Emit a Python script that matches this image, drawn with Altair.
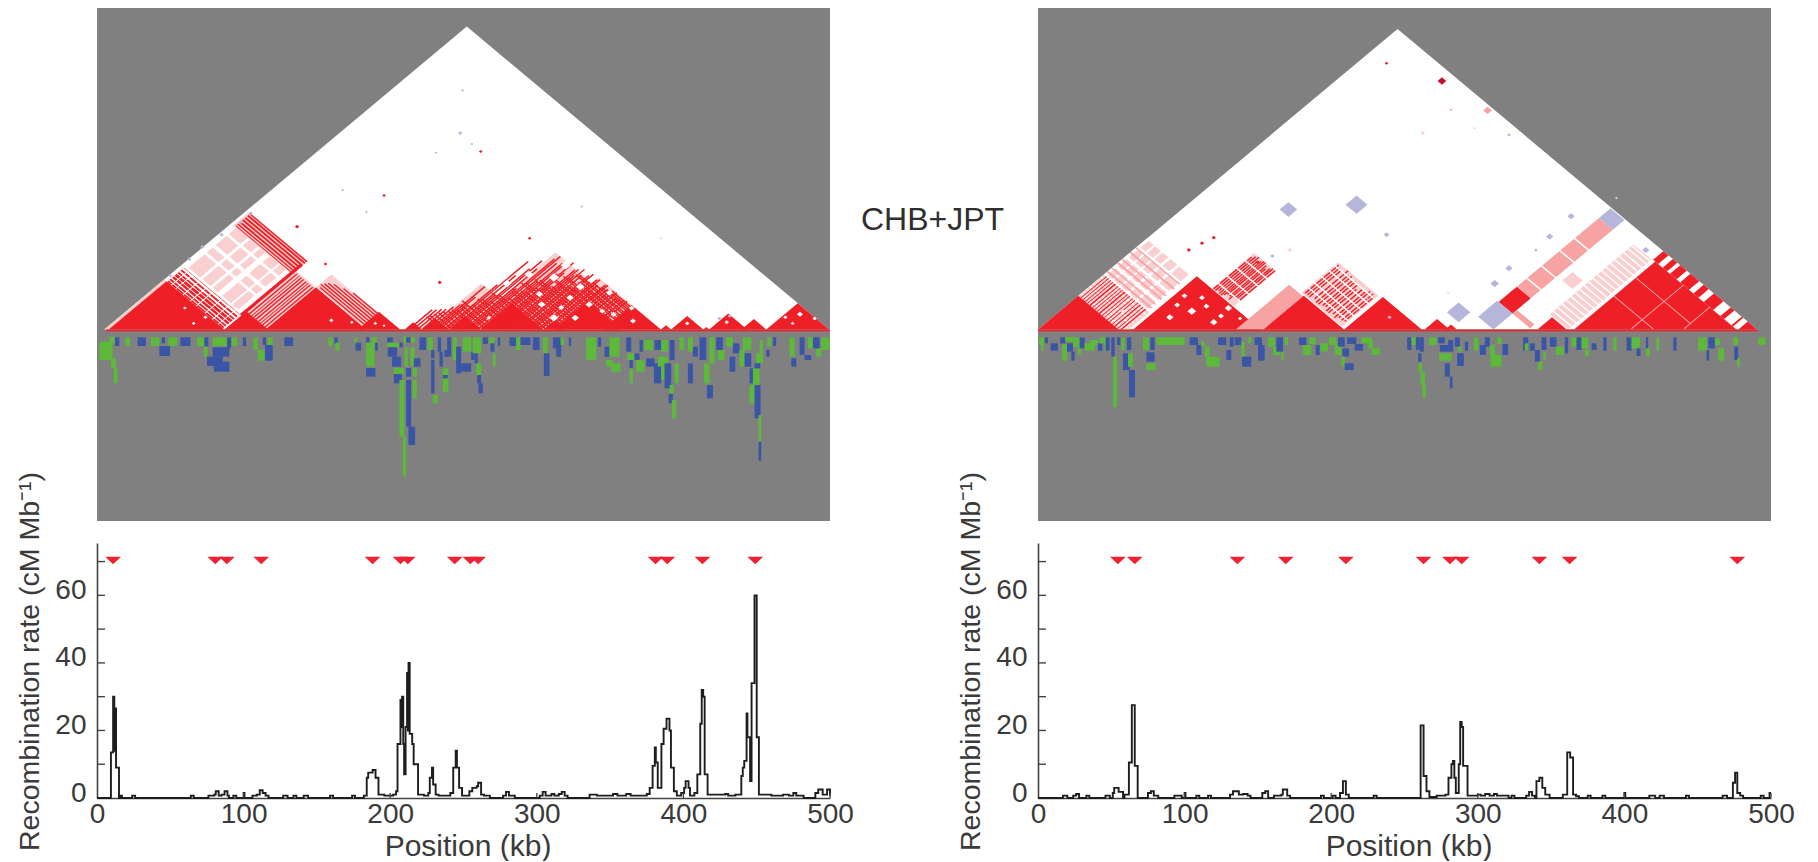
import altair as alt
import pandas as pd

# ---------- recombination-rate series (kb, cM/Mb) ----------
RATE_L = [(0,0),(9.5,13.5),(11,30),(11.8,14),(12.2,26.5),(13,9),(15,0),(16,.7),(17,0),(24,.7),(26,0),(64,.7),(66,0),(76,.7),(80,1),(81,2),(83,.7),(85,1),(87,2),(89,.7),(90,0),(93,.7),(95,0),(100,1.5),(100.6,0),(106,.7),(109,1),(111,2.3),(113,1.5),(115,.7),(117,0),(127,.7),(130,0),(134,.7),(136,0),(141,.7),(144,0),(159,.7),(161,0),(174,.7),(176,0),(182,.7),(184,6),(185,7.5),(188,8.3),(190,6),(192,1),(196,.7),(200,.7),(202,1),(204,2),(205,16),(207,29),(207.7,21),(208.1,30),(208.9,16),(209.5,7),(210.5,21),(211.5,37),(212.1,20),(212.5,40),(213.3,19),(215,16),(216,10),(219,1),(223,.7),(226,1.5),(227,6),(228.5,9),(229.3,4),(231,1),(233,.7),(241,1.5),(243,9),(244.7,14),(245.5,9),(247,3),(249,.7),(252,.7),(254,2),(256,3),(259,3.5),(260,4.5),(262,1),(264,.7),(268,0),(277,.7),(279,1.8),(281,.7),(283,.7),(285,0),(302,.7),(304,1.8),(306,.7),(310,1.2),(312,.7),(315,1.2),(317,1.8),(319,.7),(321,0),(336,1),(341,.7),(352,1.2),(355,.7),(361,1.2),(364,.7),(375,1.2),(377,3),(379,9.5),(380.5,15),(381.2,10.5),(382.5,3),(384,3),(385,16),(386.5,20.5),(388.5,23.5),(390.5,20),(391.5,9),(393.5,2),(395.5,.7),(398.5,1.5),(400.5,3),(401.5,5),(403.5,3),(404.5,.7),(407.5,1.5),(409.5,7),(411.5,22),(412.5,32),(413.5,30),(414.5,7),(416.5,1),(428.5,1.2),(430.5,.7),(435.5,1),(439.5,6.5),(440.5,9),(441.5,11),(443.1,25),(443.7,18),(445.5,5),(446.5,34),(448.5,60),(450,18),(451.5,1),(460,.7),(468,1),(472,.7),(475,1.5),(477,.7),(480,.7),(482,0),(490,1.5),(492,2.5),(495,1),(498,2.5),(500,.7)]
RATE_R = [(0,0),(17,.7),(20,0),(24,.7),(26,1.2),(28,0),(33,.7),(35,0),(46,.7),(49,0),(51,1.5),(52,3),(55,1.8),(58,0),(59,1),(62,10.5),(64,27.5),(66,9.5),(68,0),(75,1.5),(77,2),(79,.7),(82,0),(93,.7),(98,0),(100,1.5),(100.6,0),(108,.7),(110,0),(116,.7),(118,0),(131,1),(133,2),(137,1),(140,1.2),(143,.7),(145,0),(153,1.5),(155,2),(157,0),(161,.7),(166,1),(167,2.5),(170,.7),(172,0),(193,.7),(195,0),(201,.7),(203,0),(206,1.5),(208,5),(210,1),(212,0),(229,.7),(231,0),(261,21.5),(263,6.5),(265,2),(267,.3),(272,.7),(278,1),(280,6),(282,10),(283,11),(284,6),(285,1.5),(287,10),(288,22.5),(289,21),(290,9.5),(293,.7),(300,1),(302,.7),(305,1.2),(308,.7),(311,1.2),(313,.7),(321,0),(323,.7),(325,0),(333,.7),(335,1.8),(337,.7),(339,0),(340,5),(342,6),(344,3),(346,1),(349,0),(358,1),(361,13.5),(363,12),(365,1),(367,.5),(369,0),(375,.7),(377,0),(385,.7),(387,0),(400,1.5),(400.6,0),(417,.7),(421,0),(424,.7),(427,0),(442,.7),(444,0),(467,.7),(470,0),(474,4.5),(475.5,7.5),(477,1.5),(479,.7),(481,0),(493,.7),(495,0),(499,1.5),(500,1.5)]
HOTSPOT_L = [11,80.7,88.6,112,188,207,212,244,254.7,260,381,389,413,449]
HOTSPOT_R = [54.5,66,136,169,210,263,281,289,342,362.6,477]
Y_TICKS = [10,20,30,40,50,60,70]
X_TICKS = [100,200,300,400,500]

# ---------- per-SNP track below the triangle: (ruler start, ruler end, depth from, depth to, class) ----------
TRACK_L1 = [(25,65,65,120,'G'),(55,70,50,70,'G'),(60,75,115,145,'G'),(68,80,145,190,'G'),(72,85,52,78,'B'),(103,117,52,78,'G'),(140,165,52,78,'B'),(180,205,52,78,'G'),(212,222,52,70,'B'),(205,237,78,108,'B'),(232,258,52,78,'G'),(268,298,52,78,'B'),(318,340,52,78,'G'),(340,352,52,80,'B'),(338,350,80,110,'G'),(365,415,52,78,'G'),(408,420,52,85,'B'),(365,415,82,110,'B'),(348,395,110,138,'B'),(368,415,125,155,'B'),(422,438,52,78,'G'),(455,465,52,78,'B'),(487,500,52,90,'G'),(500,520,90,122,'G'),(515,525,52,75,'B'),(522,545,75,122,'B'),(530,545,52,75,'G'),(580,606,52,78,'B'),(712,724,52,78,'G'),(730,740,52,72,'B'),(733,745,68,92,'G'),(790,798,52,72,'G'),(793,810,68,92,'B'),(825,835,52,68,'B'),(840,857,52,68,'G'),(825,850,68,140,'G'),(852,860,68,92,'B'),(825,853,144,170,'B'),(888,905,52,68,'B'),(888,925,68,82,'G'),(925,935,68,82,'B'),(890,918,82,110,'B'),(903,930,110,140,'B'),(908,938,144,162,'G'),(908,932,162,190,'B'),(938,948,50,70,'G'),(945,958,52,68,'B'),(940,950,82,140,'G'),(925,940,180,350,'G'),(935,945,350,470,'G'),(945,960,144,170,'B'),(945,960,180,320,'B'),(952,972,320,375,'B'),(960,972,52,68,'G'),(958,970,82,138,'G'),(968,988,115,140,'B'),(965,977,144,170,'G'),(965,977,180,235,'G'),(985,1005,52,90,'B'),(1010,1025,52,90,'G'),(1020,1030,90,115,'B'),(1020,1030,120,220,'B'),(1025,1040,225,250,'G'),(1040,1050,52,95,'B'),(1045,1055,95,140,'B'),(1055,1072,145,215,'G'),(1055,1070,165,175,'B'),(1060,1080,90,110,'B'),(1068,1080,52,90,'B'),(1085,1097,52,120,'G'),(1095,1110,80,160,'B')]
TRACK_L2 = [(5,30,52,95,'G'),(30,40,95,120,'B'),(35,60,52,100,'G'),(0,30,130,155,'B'),(40,50,100,130,'B'),(45,60,130,165,'G'),(48,60,165,190,'B'),(52,65,190,220,'B'),(65,80,52,72,'B'),(85,100,52,72,'G'),(88,100,70,95,'B'),(95,103,100,140,'G'),(110,117,52,78,'B'),(145,165,52,78,'B'),(165,178,52,90,'G'),(178,208,52,75,'B'),(215,235,52,90,'B'),(245,260,52,100,'G'),(248,265,100,168,'B'),(275,300,52,85,'B'),(285,300,80,110,'B'),(298,308,52,75,'G'),(323,330,52,78,'B'),(375,405,52,120,'G'),(410,420,52,80,'B'),(430,445,80,110,'B'),(435,455,120,140,'G'),(445,475,52,110,'G'),(450,478,130,155,'G'),(495,510,52,95,'B'),(498,520,100,120,'G'),(505,515,120,145,'B'),(505,515,145,190,'G'),(520,535,100,120,'B'),(525,550,120,155,'G'),(535,545,60,95,'B'),(550,575,60,90,'G'),(555,580,115,140,'B'),(580,600,60,90,'B'),(578,600,130,190,'B'),(600,620,60,95,'G'),(590,620,110,140,'G'),(600,620,140,180,'G'),(610,630,130,205,'B'),(625,640,60,120,'B'),(625,638,195,220,'G'),(622,635,222,250,'B'),(632,645,240,295,'G'),(640,652,130,190,'G'),(655,668,52,90,'G'),(680,695,52,95,'G'),(680,695,130,190,'B'),(695,710,80,110,'B'),(715,735,52,120,'B'),(728,745,130,190,'G'),(737,755,195,235,'B'),(745,760,52,130,'G'),(765,785,52,90,'B'),(770,790,90,120,'G'),(795,815,52,80,'G'),(805,822,110,155,'B'),(815,835,70,100,'B'),(835,850,90,140,'G'),(845,870,52,90,'G'),(850,870,100,140,'B'),(865,880,145,190,'B'),(865,880,195,250,'G'),(875,895,145,195,'G'),(880,898,195,295,'B'),(892,900,285,365,'G'),(892,900,365,422,'B'),(885,905,100,130,'G'),(880,897,130,145,'B'),(895,905,60,100,'G'),(915,925,90,110,'B'),(918,930,52,80,'G'),(935,945,52,78,'B'),(985,1000,52,110,'G'),(990,1005,115,140,'B'),(1015,1030,52,105,'B'),(1030,1050,105,120,'B'),(1040,1060,52,85,'G'),(1065,1080,85,110,'G'),(1055,1075,52,85,'B'),(1080,1105,52,90,'G')]
TRACK_R1 = [(28,45,52,75,'G'),(35,42,75,92,'G'),(45,55,52,70,'B'),(63,85,70,92,'B'),(92,107,52,70,'B'),(98,112,72,122,'G'),(107,130,52,65,'G'),(112,130,70,95,'B'),(125,135,95,122,'B'),(130,145,52,80,'G'),(145,155,52,105,'G'),(150,165,52,85,'B'),(165,195,70,92,'G'),(180,205,60,75,'G'),(205,218,70,92,'B'),(210,230,52,70,'G'),(225,238,70,92,'G'),(228,240,52,92,'B'),(245,255,52,110,'B'),(250,262,110,262,'G'),(262,272,52,75,'B'),(280,300,100,150,'B'),(275,285,52,90,'G'),(292,305,52,90,'B'),(295,310,100,140,'G'),(298,316,150,232,'B'),(340,358,52,90,'G'),(362,375,52,90,'B'),(350,375,97,125,'B'),(350,378,130,150,'G'),(380,465,52,75,'G'),(480,505,52,75,'B'),(500,515,75,105,'B'),(515,525,65,80,'G'),(525,540,80,110,'G'),(530,570,110,140,'G'),(565,590,52,75,'B'),(590,605,90,120,'B'),(600,612,52,80,'B'),(615,635,52,75,'B'),(635,645,65,110,'G'),(637,665,110,140,'B'),(655,665,52,70,'G'),(675,697,52,75,'B'),(685,705,75,122,'B'),(715,735,52,80,'G'),(730,750,80,105,'G'),(740,760,52,95,'B'),(755,762,95,120,'G'),(765,775,52,75,'G'),(808,830,52,75,'B'),(820,845,75,105,'G'),(838,858,52,72,'G'),(858,870,75,105,'B'),(872,895,70,95,'G'),(898,920,52,75,'G'),(915,935,75,105,'G'),(925,945,52,80,'B'),(938,958,85,110,'B'),(935,945,110,140,'G'),(945,972,130,150,'B'),(952,980,52,72,'B'),(975,1000,72,92,'B'),(995,1025,52,70,'G'),(1015,1030,60,85,'G'),(1025,1050,85,105,'G')]
TRACK_R2 = [(22,35,52,90,'B'),(35,50,52,75,'G'),(48,60,52,90,'B'),(60,72,52,95,'B'),(55,65,100,125,'B'),(55,67,130,155,'G'),(62,75,155,195,'G'),(68,78,195,232,'G'),(88,110,52,75,'G'),(115,135,52,70,'B'),(120,145,75,95,'B'),(118,155,100,122,'G'),(135,150,130,170,'B'),(150,158,170,205,'B'),(145,160,60,95,'B'),(165,180,52,80,'B'),(172,192,100,138,'B'),(175,185,80,95,'G'),(195,205,65,92,'B'),(222,235,52,92,'G'),(240,258,75,105,'B'),(255,270,52,80,'B'),(270,285,75,105,'G'),(272,305,105,140,'G'),(292,305,52,72,'G'),(308,325,72,105,'B'),(370,385,52,92,'B'),(375,385,70,92,'G'),(390,405,70,92,'B'),(405,420,90,125,'B'),(415,428,125,150,'G'),(430,438,95,120,'G'),(425,440,52,90,'B'),(450,470,52,80,'B'),(468,492,80,105,'G'),(495,505,52,100,'B'),(515,530,52,80,'G'),(530,545,52,90,'B'),(545,565,52,85,'G'),(555,568,90,108,'G'),(575,590,70,90,'B'),(610,620,52,92,'B'),(640,650,52,92,'G'),(680,695,52,92,'B'),(695,720,52,85,'G'),(710,722,85,108,'B'),(738,745,52,92,'B'),(738,750,85,108,'G'),(770,778,52,92,'G'),(820,830,52,92,'B'),(895,920,52,92,'G'),(925,945,52,85,'B'),(945,960,55,75,'G'),(920,928,90,122,'B'),(955,972,85,122,'G'),(1000,1015,52,75,'G'),(1003,1015,80,120,'B'),(1012,1020,115,140,'G'),(1075,1097,52,75,'G')]

# ---------- LD regions (SNP-a range, SNP-b range, class) in kb ----------
L_BLOCKS = [(5,500,5,500,'w'),(5,9,5,87,'p'),(8,87,8,87,'r'),(9,85,87,110,'r')]
L_BAND_B = [(89,90),(92,93.5),(96,97),(100,101),(103,105),(107,109.5)]
L_BAND_A = [(14,15),(20,21),(30,31),(40,41),(48,49),(60,61),(70,71),(78,79)]
L_PINK_A = [(12,28),(31,42),(45,52),(58,70),(72,80)]
L_PINK_B = [(113,135),(138,146),(150,165),(168,178)]
L_RED_B = [(179,180),(181.5,183),(184.5,186.5),(188,190),(191.5,193.5),(195,197),(198,199.5)]
L_RED_A = [(85,88.5),(90.5,92),(94,95),(96.5,98),(99.5,101),(103,104.5),(106,107),(108.5,110),(112,113.5)]
L_EXTRA = [(8,88,178,200,'p'),(88,115,117,184,'p'),(87,117,87,117,'r'),(115,184,115,184,'r'),(115,190,184,205,'p'),(178,207,178,207,'r'),
           (250,376,250,376,'p'),(225,300,225,300,'p'),(300,385,300,385,'p'),(262,305,262,305,'r'),(240,262,240,262,'r'),(222,240,222,240,'r'),(210,222,210,222,'r'),(305,320,305,320,'r'),(312,358,312,358,'r'),(345,385,345,385,'r'),(392,414,392,414,'r'),(418,444,418,444,'r'),(457,500,457,500,'r'),(385,392,385,392,'r'),(440,457,440,457,'r'),(414,418,414,418,'r')]
L_LINES_B = [(186,118),(189,116),(192,118),(195,120),(198,125),(201,135),(204,145)]
L_ROWS = [(212,245),(215,248),(218,252),(221,255),(224,262),(227,268),(229,300),(231,285),(233,272),(236,310),(238,350),(241,330),(243,300),(245,345),(247,360),(250,350),(252,320),(254,370),(256,376),(259,368),(261,340),(263,372),(265,374),(268,360),(270,380),(272,365),(274,345),(277,375),(279,378),(281,370),(283,382),(286,375),(288,360),(291,380),(293,384),(295,370),(297,375),(300,382),(302,384),(305,378),(307,368),(310,384),(312,385),(315,380),(318,378),(321,384),(324,385),(328,380),(331,382),(335,384),(338,385)]
L_COLS = [(235,215),(238,216),(242,218),(246,220),(250,222),(254,224),(258,226),(261,230),(265,232),(268,228),(272,226),(276,236),(280,240),(284,235),(287,238),(291,246),(295,250),(299,240),(302,245),(306,255),(310,260),(313,252),(316,250),(320,258),(323,262),(327,252),(330,255),(333,266),(336,270),(339,258),(342,262),(345,275),(348,280),(351,265),(353,270),(356,285),(358,290),(361,275),(363,280),(366,290),(368,295),(371,282),(373,285),(376,300),(378,310),(380,315),(382,320)]
L_SPOTS = [(249.6,391,2,'l'),(248,321,3,'l'),(256,303,2,'l'),(231.6,289,2,'l'),(262,291,2.5,'r'),(167.7,228,2,'l'),(196,219,2.5,'r'),(184,192,2,'l'),(136.6,168,3,'r'),(331,201,2,'l'),(385,149,2,'p'),(234,77,3,'r'),(295.4,149,2.5,'r'),(156,107,2.5,'r'),(303.6,41,5,'w'),(312,19,6,'w'),(302,58,5,'w'),(323,52,5,'w'),(317,36,4,'w'),(336,41,5,'w'),(326.5,19,5,'w'),(352.7,25,4,'w'),(366,14,4,'w'),(267.6,19,3,'w'),(345,30,4,'w'),(330,70,6,'w'),(312,85,7,'w'),(295,90,6,'w'),(350,60,5,'w'),(365,35,4,'w'),(280,75,6,'w'),(320,105,7,'w'),(480,25,4,'w'),(470,20,3,'w'),(490,18,3,'w'),(475,10,2.5,'w'),(403,10,3,'w'),(430,12,3,'w'),(160,15,3,'w'),(174,12,2.5,'w'),(190,10,2.5,'w'),(196,6,2,'w'),(74,20,3,'w'),(60,35,2.5,'w'),(66,10,2.5,'w'),(425,18,3,'l'),(432,22,3,'l'),(50,88,3,'l'),(63,115,3,'l'),(72,135,3,'l'),(85,155,3,'l'),(98,175,3,'l'),(105,190,3,'l')]

R_BLOCKS = [(0,491,0,491,'w'),(0,62,55,90,'p'),(0,60,90,150,'w'),(0,55,0,55,'r'),(65,152,65,152,'r')]
R_PINK_A = [(3,10),(12,20),(22,30),(33,42),(45,58)]
R_PINK_B = [(92,103),(106,118),(121,134),(137,148)]
R_WHITE_B = [(58,59.5),(62,63),(66,67),(70,71.5),(75,76),(80,81),(85,86.5)]
R_RED_A = [(3,4),(6,7),(9,10),(12,13),(15,16.5),(19,20),(22,23),(25,26),(28,29.5),(32,33),(35,36),(39,40),(42,43),(46,47),(49,50.5),(53,54),(56,57.5)]
R_RED_B2 = [(94,96),(100,101.5),(108,110),(114,115.5),(125,127),(133,134.5)]
R_EXTRA = [(85,115,153,210,'p'),(135,208,135,208,'m'),(154,209,154,209,'r'),(150,205,210,260,'p'),(209,262,209,262,'r'),(264,281,264,281,'r'),(278,286,278,286,'r'),(292,311,337,362,'r'),(292,311,362,474,'m'),(292,311,474,490,'l'),(290,311,311,337,'l'),(311,335,337,343,'m'),(318,332,398,412,'p'),(337,362,362,476,'p'),(341,361,341,361,'r'),(366,477,366,477,'r'),(363,477,477,491,'r'),(478,491,478,491,'r')]
R_RED_ROWS = [(86,153,205),(88.5,153,208),(91,155,210),(93.5,153,205),(96,153,208),(98,155,210),(100,158,210),(103,158,208),(105,155,205),(108,160,208),(110,160,210),(113,162,210),(152,212,258),(155,212,256),(158,212,255),(163,214,260),(167,212,256),(170,212,258),(174,214,255),(177,215,256),(181,212,255),(184,212,250),(188,214,254),(192,212,255),(195,215,258),(199,215,258),(202,216,256)]
R_WHITE_COLS = [(160,85,115),(172,85,115),(185,85,115),(197,85,115),(218,150,205),(226,150,205),(236,150,205),(246,150,205),(254,150,205),(375,292,311),(395,292,311),(420,292,311),(440,292,311),(366,337,362),(372,337,362),(378,337,362),(384,337,362),(390,337,362),(396,337,362),(402,337,362),(408,337,362),(414,337,362),(420,337,362),(426,337,362),(432,337,362),(438,337,362),(444,337,362),(450,337,362),(456,337,362),(462,337,362),(468,337,362),(473,337,362)]
R_WHITE_ROWS = [(370,376),(382,386),(395,400),(412,418),(425,432),(445,455),(460,470),(472,478)]
R_PALE_LINES = [(404,405,406,477),(366,477,420,421),(440,441,442,477),(366,440,450,451)]
R_SPOTS = [(238,435,2.5,'r'),(275.8,406,6,'d'),(307,358,6,'m'),(282,359,2,'m'),(262.7,321,3,'p'),(321.6,318,2.5,'l'),(298,329,2,'p'),(217.5,204,15,'l'),(171,196,12,'l'),(238,155,4,'l'),(364,185,5,'l'),(349.4,152,5,'l'),(311.8,75,6,'l'),(321.6,100,5,'l'),(415,130,5,'l'),(287.2,28,16,'l'),(112,141,3,'r'),(120,150,3,'r'),(103,130,3,'r'),(160,120,3,'l'),(150,110,3,'r'),(172,130,3,'p'),(90,20,5,'w'),(105,30,6,'w'),(120,12,5,'w'),(130,35,5,'w'),(100,55,4,'w'),(95,40,4,'w'),(112,52,4,'w'),(125,22,4,'w'),(138,18,3,'w'),(115,38,4,'w'),(60,15,2,'w'),(58,30,2.5,'w'),(275,25,2,'w'),(240,20,3,'l'),(340,130,2.5,'l'),(395,215,2,'p'),(280,60,2,'p'),(225,50,2,'l')]

COLORS = {'w':'#ffffff','r':'#ee1f26','p':'#f9cfcf','m':'#f7a3a3','l':'#b6b6da','d':'#c8102e'}
GRAY = '#808080'
TRACK_COLORS = {'G':'#5db93a','B':'#3a54a6'}
K = 0.612          # px of triangle height per kb of pair distance
BASE_GAP = 7.5     # px between the triangle base and the SNP track
FONT = 'Liberation Sans'
TXT = '#3a3a3a'


def spot_blocks(spots):
    return [(c-d/2-s/2, c-d/2+s/2, c+d/2-s/2, c+d/2+s/2, k) for c, d, s, k in spots]


def polygons(blocks):
    rows = []
    for i, (a1, a2, b1, b2, key) in enumerate(blocks):
        xs = {(a1+b1)/2, (a1+b2)/2, (a2+b2)/2, (a2+b1)/2}
        if b1 < a2:
            xs |= {a2, b1}
        for c in sorted(xs):
            up = min(2*(c-a1), 2*(b2-c))
            lo = max(2*(c-a2), 2*(b1-c), 0)
            if up >= lo - 1e-9:
                rows.append(dict(block=f"b{i:04d}", kb=c, upper=up, lower=lo, cls=key))
    return pd.DataFrame(rows)


def left_blocks():
    b = list(L_BLOCKS)
    b += [(9,85,s,e,'w') for s,e in L_BAND_B]
    b += [(s,e,87,110,'w') for s,e in L_BAND_A]
    b += [(s,e,u,v,'p') for s,e in L_PINK_A for u,v in L_PINK_B]
    b += L_EXTRA
    b += [(10,88,s,e,'r') for s,e in L_RED_B]
    b += [(s,e,110 if s<90 else 117,192 if s<90 else 182,'r') for s,e in L_RED_A]
    b += [(a,190,s,s+1.5,'r') for s,a in L_LINES_B]
    b += [(s,s+1.6,s+1.6,e,'r') for s,e in L_ROWS]
    b += [(a,s,s,s+1.6,'r') for s,a in L_COLS]
    b += spot_blocks(L_SPOTS)
    return b


def right_blocks():
    b = list(R_BLOCKS)
    b += [(s,e,u,v,'p') for s,e in R_PINK_A for u,v in R_PINK_B]
    b += [(0,60,s,e,'w') for s,e in R_WHITE_B]
    b += [(s,e,55,90,'r') for s,e in R_RED_A]
    b += [(0,60,s,e,'m') for s,e in R_RED_B2]
    b += R_EXTRA
    b += [(s,s+1.5,u,v,'r') for s,u,v in R_RED_ROWS]
    b += [(u,v,s,s+1.6,'w') for s,u,v in R_WHITE_COLS]
    b += [(s,e,477,491,'w') for s,e in R_WHITE_ROWS]
    b += [(a1,a2,b1,b2,'m') for a1,a2,b1,b2 in R_PALE_LINES]
    b += spot_blocks(R_SPOTS)
    return b


W, H_TOP, H_LOW = 733, 513, 255
X_SCALE = alt.Scale(domain=[0, 500.5], nice=False, zero=False)
Y_TOP = alt.Scale(domain=[-(H_TOP-321.5)/K, 321.5/K], nice=False, zero=False)


def top_panel(blocks, tracks, base_end, base_start, extra=None):
    bg = alt.Chart(pd.DataFrame({'p': [GRAY]})).mark_rect(color=GRAY).encode(
        x=alt.value(0), x2=alt.value(W), y=alt.value(0), y2=alt.value(H_TOP))
    poly = polygons(blocks)
    area = alt.Chart(poly).mark_area(interpolate='linear').encode(
        x=alt.X('kb:Q', scale=X_SCALE, axis=None),
        y=alt.Y('upper:Q', scale=Y_TOP, axis=None),
        y2='lower:Q',
        detail='block:N',
        color=alt.Color('cls:N', legend=None,
                        scale=alt.Scale(domain=list(COLORS), range=list(COLORS.values()))))
    rows = []
    for x1, x2, d1, d2, k in tracks:
        rows.append(dict(x1=x1, x2=x2, y1=-(BASE_GAP+d1)/K, y2=-(BASE_GAP+d2)/K, k=k))
    track = alt.Chart(pd.DataFrame(rows)).mark_rect(strokeWidth=0).encode(
        x=alt.X('x1:Q', scale=X_SCALE, axis=None), x2='x2:Q',
        y=alt.Y('y1:Q', scale=Y_TOP, axis=None), y2='y2:Q',
        color=alt.Color('k:N', legend=None,
                        scale=alt.Scale(domain=list(TRACK_COLORS), range=list(TRACK_COLORS.values()))))
    strip = alt.Chart(pd.DataFrame({'x1': [base_start], 'x2': [base_end], 'y1': [0.0], 'y2': [-2.8]})).mark_rect(
        color=COLORS['r'], strokeWidth=0).encode(
        x=alt.X('x1:Q', scale=X_SCALE, axis=None), x2='x2:Q',
        y=alt.Y('y1:Q', scale=Y_TOP, axis=None), y2='y2:Q')
    layers = [bg, area, strip, track]
    if extra is not None:
        layers.append(extra)
    return alt.layer(*layers).resolve_scale(color='independent').properties(width=W, height=H_TOP)


def low_panel(rate, hotspots):
    df = pd.DataFrame(rate, columns=['kb', 'rate'])
    xs = alt.Scale(domain=[0, 500], nice=False, zero=False)
    ys = alt.Scale(domain=[0, 75.5], nice=False, zero=False)
    line = alt.Chart(df).mark_line(interpolate='step-after', color='#1d1d1d', strokeWidth=1.9).encode(
        x=alt.X('kb:Q', scale=xs, axis=alt.Axis(
            values=[0,100,200,300,400,500], title='Position (kb)', ticks=False, grid=False, format='d',
            labelFlush=False, labelOverlap=False,
            domainColor='#444444', domainWidth=1.6, labelFont=FONT, labelFontSize=28, labelColor=TXT,
            labelPadding=2, titleFont=FONT, titleFontSize=30, titleFontWeight='normal', titleColor=TXT,
            titleX=W/2+4, titleY=33)),
        y=alt.Y('rate:Q', scale=ys, axis=alt.Axis(
            values=[0,20,40,60], title='Recombination rate (cM Mb\u207b\u00b9)', ticks=False, grid=False,
            labelFlush=False, labelOverlap=False,
            domainColor='#444444', domainWidth=1.6, labelFont=FONT, labelFontSize=28, labelColor=TXT,
            labelPadding=11, labelOffset=-5, titleFont=FONT, titleFontSize=28.5, titleFontWeight='normal',
            titleColor=TXT, titleX=-53, titleY=118)))
    tri = alt.Chart(pd.DataFrame({'kb': hotspots, 'rate': [70.4]*len(hotspots)})).mark_point(
        shape='M-1,-0.45L1,-0.45L0,0.5Z', size=250, filled=True, color='#ee2233', opacity=1).encode(
        x=alt.X('kb:Q', scale=xs), y=alt.Y('rate:Q', scale=ys))
    ytick = alt.Chart(pd.DataFrame({'v': Y_TICKS})).mark_rule(color='#444444', strokeWidth=1.4).encode(
        x=alt.value(0), x2=alt.value(8), y=alt.Y('v:Q', scale=ys))
    xtick = alt.Chart(pd.DataFrame({'v': X_TICKS})).mark_rule(color='#444444', strokeWidth=1.3).encode(
        y=alt.value(H_LOW), y2=alt.value(H_LOW-5), x=alt.X('v:Q', scale=xs))
    return alt.layer(line, tri, ytick, xtick).properties(width=W, height=H_LOW)


label = alt.Chart(pd.DataFrame({'t': ['CHB+JPT']})).mark_text(
    font=FONT, fontSize=32, color='#2f2f2f', align='left', baseline='middle').encode(
    text='t:N', x=alt.value(W+31), y=alt.value(212))

left_top = top_panel(left_blocks(), [((x1-18)/4.392,(x2-18)/4.392,(y1-51)/3,(y2-51)/3,k) for x1,x2,y1,y2,k in TRACK_L1]
                     + [((x1+1092)/4.392,(x2+1092)/4.392,(y1-51)/3,(y2-51)/3,k) for x1,x2,y1,y2,k in TRACK_L2], 500, 6, label)
right_top = top_panel(right_blocks(), [((x1-25.2)/4.392,(x2-25.2)/4.392,(y1-51)/3,(y2-51)/3,k) for x1,x2,y1,y2,k in TRACK_R1]
                      + [((x1+1085)/4.392,(x2+1085)/4.392,(y1-51)/3,(y2-51)/3,k) for x1,x2,y1,y2,k in TRACK_R2], 491, 0)

chart = alt.concat(left_top, right_top, low_panel(RATE_L, HOTSPOT_L), low_panel(RATE_R, HOTSPOT_R),
                   columns=2, spacing={'row': 22, 'column': 208}, bounds='flush').properties(
    padding={'left': 6, 'top': 0, 'right': 0, 'bottom': 0}, background='white').configure_view(stroke=None)

chart.save("out.html", embed_options={"renderer": "svg", "actions": False})
